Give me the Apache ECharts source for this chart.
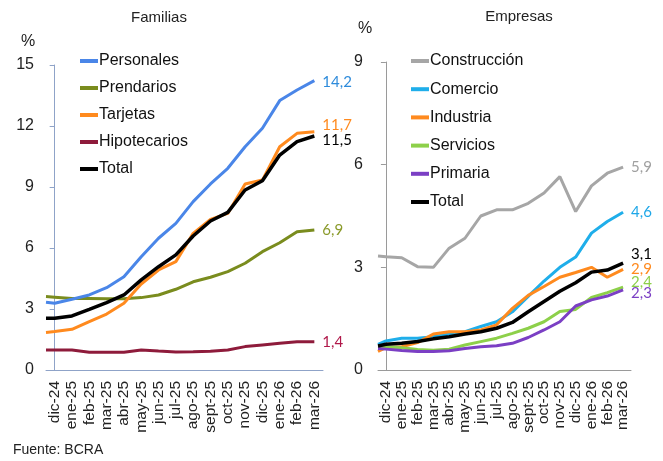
<!DOCTYPE html>
<html>
<head>
<meta charset="utf-8">
<script src="https://cdn.jsdelivr.net/npm/echarts@6/dist/echarts.min.js"></script>
<style>
  html, body { margin: 0; padding: 0; background: #fff; }
  #main { width: 663px; height: 461px; }
</style>
</head>
<body>
<div id="main"></div>
<script>
// meses (etiquetas del eje x)
var meses = ['dic-24', 'ene-25', 'feb-25', 'mar-25', 'abr-25', 'may-25', 'jun-25', 'jul-25',
  'ago-25', 'sept-25', 'oct-25', 'nov-25', 'dic-25', 'ene-26', 'feb-26', 'mar-26'];
// posicion de cada dato sobre el eje (en meses; -0.5 = borde izquierdo)
var posX = [-0.5, 0, 1, 2, 3, 4, 5, 6, 7, 8, 9, 10, 11, 12, 13, 14, 15];

// Familias
var personales   = [3.33, 3.28, 3.48, 3.69, 4.05, 4.59, 5.57, 6.48, 7.21, 8.28, 9.15, 9.92, 10.98, 11.89, 13.25, 13.77, 14.23];
var prendarios   = [3.61, 3.58, 3.52, 3.52, 3.5, 3.5, 3.56, 3.69, 3.97, 4.34, 4.56, 4.84, 5.25, 5.82, 6.26, 6.8, 6.89];
var tarjetas     = [1.85, 1.89, 2.0, 2.38, 2.75, 3.28, 4.23, 4.92, 5.33, 6.72, 7.41, 7.7, 9.15, 9.34, 10.98, 11.64, 11.72];
var hipotecarios = [0.98, 0.98, 0.98, 0.87, 0.87, 0.87, 0.98, 0.93, 0.89, 0.9, 0.92, 0.98, 1.15, 1.23, 1.31, 1.39, 1.39];
var totalFam     = [2.54, 2.54, 2.66, 2.98, 3.31, 3.69, 4.43, 5.08, 5.66, 6.59, 7.33, 7.75, 8.85, 9.31, 10.57, 11.23, 11.51];

// Empresas
var construccion = [3.33, 3.31, 3.28, 3.02, 3.0, 3.56, 3.85, 4.5, 4.68, 4.68, 4.87, 5.17, 5.65, 4.63, 5.38, 5.75, 5.93];
var comercio     = [0.75, 0.85, 0.93, 0.93, 0.97, 1.05, 1.12, 1.27, 1.41, 1.7, 2.15, 2.6, 3.0, 3.3, 4.0, 4.34, 4.61];
var industria    = [0.54, 0.65, 0.68, 0.8, 1.05, 1.12, 1.12, 1.17, 1.32, 1.8, 2.18, 2.44, 2.71, 2.85, 3.0, 2.71, 2.94];
var servicios    = [0.7, 0.68, 0.65, 0.6, 0.58, 0.61, 0.73, 0.83, 0.93, 1.07, 1.22, 1.41, 1.71, 1.77, 2.12, 2.26, 2.42];
var primaria     = [0.63, 0.61, 0.57, 0.54, 0.54, 0.56, 0.63, 0.68, 0.71, 0.78, 0.95, 1.17, 1.41, 1.87, 2.05, 2.16, 2.34];
var totalEmp     = [0.7, 0.75, 0.78, 0.83, 0.91, 0.97, 1.05, 1.12, 1.22, 1.39, 1.7, 2.0, 2.3, 2.55, 2.86, 2.92, 3.12];

var fuente = 'Arial, "Liberation Sans", sans-serif';

function pares(vals) {
  return vals.map(function (v, i) { return [posX[i], v]; });
}

function linea(nombre, vals, color, grid, labelColor, dy, ancho) {
  return {
    name: nombre,
    type: 'line',
    xAxisIndex: grid * 2 + 1,
    yAxisIndex: grid,
    data: pares(vals),
    showSymbol: false,
    silent: true,
    lineStyle: { color: color, width: ancho || 3 },
    itemStyle: { color: color },
    endLabel: {
      show: true,
      distance: 8,
      offset: [0, dy || 0],
      color: labelColor || color,
      fontFamily: 'Lato, "Open Sans", sans-serif',
      fontSize: 15,
      formatter: function (p) { return p.value[1].toFixed(1).replace('.', ','); }
    }
  };
}

function ejeCat(grid, colorEje) {
  return {
    type: 'category',
    gridIndex: grid,
    data: meses,
    boundaryGap: true,
    axisLine: { lineStyle: { color: colorEje, width: 1 } },
    axisTick: { inside: true, length: 5, interval: 0, lineStyle: { color: colorEje } },
    axisLabel: { interval: 0, rotate: 90, margin: 11, color: '#222', fontSize: 15.5, fontFamily: fuente }
  };
}

function ejeVal(grid) {
  return { type: 'value', gridIndex: grid, min: -0.5, max: 15.5, show: false };
}

function ejeY(grid, max, colorEje, margen) {
  return {
    type: 'value',
    gridIndex: grid,
    min: 0,
    max: max,
    interval: 3,
    splitLine: { show: false },
    axisLine: { show: true, lineStyle: { color: colorEje, width: 1 } },
    axisTick: { show: true, length: 5, lineStyle: { color: colorEje } },
    axisLabel: { color: '#222', fontSize: 16, fontFamily: fuente, margin: margen }
  };
}

var chart = echarts.init(document.getElementById('main'));
chart.setOption({
  animation: false,
  textStyle: { fontFamily: fuente },
  grid: [
    { left: 46, top: 65, width: 277, height: 305 },
    { left: 378, top: 62, width: 253, height: 308 }
  ],
  xAxis: [ejeCat(0, '#8FA3C8'), ejeVal(0), ejeCat(1, '#9A9A9A'), ejeVal(1)],
  yAxis: [ejeY(0, 15, '#8FA3C8', 12), ejeY(1, 9, '#9A9A9A', 15)],
  legend: [
    {
      orient: 'vertical', left: 75, top: 46, itemWidth: 18, itemHeight: 4, itemGap: 7,
      icon: 'rect',
      data: ['Personales', 'Prendarios', 'Tarjetas', 'Hipotecarios', 'Total'],
      textStyle: { fontSize: 16, lineHeight: 20, color: '#111', fontFamily: fuente, padding: [0, 0, 0, -4] }
    },
    {
      orient: 'vertical', left: 406, top: 46, itemWidth: 18, itemHeight: 4, itemGap: 8.2,
      icon: 'rect',
      data: ['Construcción', 'Comercio', 'Industria', 'Servicios', 'Primaria', 'Total'],
      textStyle: { fontSize: 16, lineHeight: 20, color: '#111', fontFamily: fuente, padding: [0, 0, 0, -4] }
    }
  ],
  graphic: [
    { type: 'text', x: 159, y: 18, style: { text: 'Familias', textAlign: 'center', textVerticalAlign: 'middle', font: '15px ' + fuente, fill: '#222' } },
    { type: 'text', x: 519, y: 17, style: { text: 'Empresas', textAlign: 'center', textVerticalAlign: 'middle', font: '15px ' + fuente, fill: '#222' } },
    { type: 'text', x: 28, y: 42, style: { text: '%', textAlign: 'center', textVerticalAlign: 'middle', font: '16px ' + fuente, fill: '#222' } },
    { type: 'text', x: 365, y: 29, style: { text: '%', textAlign: 'center', textVerticalAlign: 'middle', font: '16px ' + fuente, fill: '#222' } },
    { type: 'text', x: 13, y: 450, style: { text: 'Fuente: BCRA', textVerticalAlign: 'middle', font: '14px ' + fuente, fill: '#222' } }
  ],
  series: [
    linea('Hipotecarios', hipotecarios, '#8E1B3B', 0, '#B0184A', 0),
    linea('Prendarios', prendarios, '#7A8C1E', 0, '#8A9A2A', 0),
    linea('Personales', personales, '#4A86E8', 0, '#2E8BDB', 1),
    linea('Tarjetas', tarjetas, '#FF8A1E', 0, '#FF8A1E', -7),
    linea('Total', totalFam, '#000000', 0, '#000000', 4, 3.5),

    linea('Construcción', construccion, '#A6A6A6', 1, '#A0A0A0', 0),
    linea('Comercio', comercio, '#1FAEEA', 1, '#1EA7E8', 0),
    linea('Industria', industria, '#FF8A1E', 1, '#FF8A1E', 0),
    linea('Servicios', servicios, '#8DD04A', 1, '#8DD04A', -5),
    linea('Primaria', primaria, '#7B3FC4', 1, '#7B3FC4', 3),
    linea('Total', totalEmp, '#000000', 1, '#000000', -9, 3.5)
  ]
});
</script>
</body>
</html>
